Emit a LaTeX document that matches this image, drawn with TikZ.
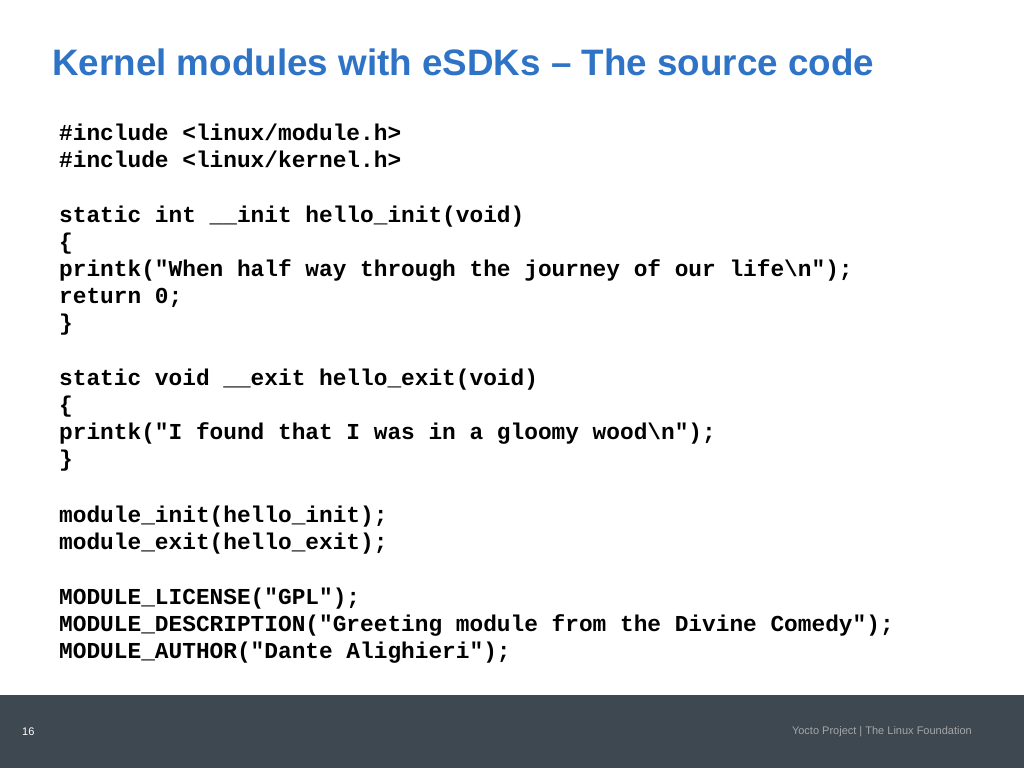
\documentclass[tikz,border=0pt]{standalone}
\usepackage{fontspec}
\setmainfont{Liberation Sans}
\setmonofont{Liberation Mono}
\definecolor{titleblue}{HTML}{2E73C6}
\definecolor{footgray}{HTML}{3D4851}
\tikzset{
  code/.style={anchor=base west,inner sep=0pt,font=\fontsize{22.8}{27}\selectfont\ttfamily\bfseries},
  foot/.style={inner sep=0pt,font=\fontsize{11}{13}\selectfont}
}
\begin{document}
\begin{tikzpicture}[x=1pt,y=-1pt]
  \useasboundingbox (0,0) rectangle (1024,768);
  \fill[footgray] (0,695) rectangle (1024,768);

  \node[anchor=base west,inner sep=0pt,text=titleblue,font=\fontsize{36.8}{42}\selectfont\bfseries]
    (title) at (52,75) {Kernel modules with eSDKs -- The source code};

  \node[code] (l1) at (59,140) {\#include <linux/module.h>};
  \node[code] (l2) at (59,167) {\#include <linux/kernel.h>};
  \node[code] (l3) at (59,222) {static int \_\_init hello\_init(void)};
  \node[code] (l4) at (59,249) {\{};
  \node[code] (l5) at (59,276) {printk("When half way through the journey of our life\textbackslash n");};
  \node[code] (l6) at (59,303) {return 0;};
  \node[code] (l7) at (59,330) {\}};
  \node[code] (l8) at (59,385) {static void \_\_exit hello\_exit(void)};
  \node[code] (l9) at (59,412) {\{};
  \node[code] (l10) at (59,439) {printk("I found that I was in a gloomy wood\textbackslash n");};
  \node[code] (l11) at (59,466) {\}};
  \node[code] (l12) at (59,522) {module\_init(hello\_init);};
  \node[code] (l13) at (59,549) {module\_exit(hello\_exit);};
  \node[code] (l14) at (59,604) {MODULE\_LICENSE("GPL");};
  \node[code] (l15) at (59,631) {MODULE\_DESCRIPTION("Greeting module from the Divine Comedy");};
  \node[code] (l16) at (59,658) {MODULE\_AUTHOR("Dante Alighieri");};

  \node[foot,anchor=west,text=white] (page) at (22,732) {16};
  \node[foot,anchor=east,text=black!35] (org) at (972,732) {Yocto Project | The Linux Foundation};
\end{tikzpicture}
\end{document}
